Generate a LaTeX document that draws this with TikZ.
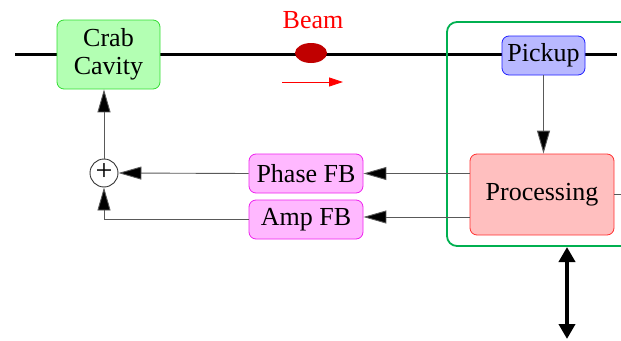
\documentclass[tikz,border=0pt]{standalone}
\usepackage{fontspec}
\setmainfont{Liberation Serif}
\usetikzlibrary{arrows.meta,shapes.geometric,calc}
\definecolor{crabfill}{HTML}{B3FFB3}
\definecolor{crabdraw}{HTML}{33DD33}
\definecolor{pickfill}{HTML}{B8B8FF}
\definecolor{pickdraw}{HTML}{2020FF}
\definecolor{procfill}{HTML}{FFBFBF}
\definecolor{procdraw}{HTML}{FF3030}
\definecolor{fbfill}{HTML}{FFB8FF}
\definecolor{fbdraw}{HTML}{EE22EE}
\definecolor{boxgreen}{HTML}{00B050}
\definecolor{bunch}{HTML}{C00000}
\begin{document}
\begin{tikzpicture}[x=1pt,y=-1pt,
  every node/.style={font=\fontsize{26}{28}\selectfont, inner sep=0pt, align=center},
  blk/.style={rectangle, rounded corners=7pt, line width=0.8pt},
  conn/.style={line width=0.9pt, draw=black!65},
  arr/.style={conn, -{Triangle[length=23pt,width=13pt,fill=black]}},
]
\useasboundingbox (0,0) rectangle (621,340);
% beam line
\coordinate (beamL) at (15,54);
\coordinate (beamR) at (617,54);
\draw[line width=3pt] (beamL) -- (beamR);
% green enclosure
\draw[draw=boxgreen, line width=1.8pt, rounded corners=10pt] (447,22) rectangle (650,246);
\coordinate (encbot) at (567,247);
\coordinate (down) at (567,339);
% nodes
\node[blk, fill=crabfill, draw=crabdraw, minimum width=103pt, minimum height=69pt] (crab) at (108.5,54.5) {Crab\\Cavity};
\node[blk, fill=pickfill, draw=pickdraw, minimum width=83pt, minimum height=39pt] (pickup) at (543.5,55.5) {Pickup};
\node[blk, fill=procfill, draw=procdraw, minimum width=144pt, minimum height=81pt] (proc) at (542,194.5) {Processing};
\node[blk, fill=fbfill, draw=fbdraw, minimum width=114pt, minimum height=39pt] (phase) at (306,173.5) {Phase FB};
\node[blk, fill=fbfill, draw=fbdraw, minimum width=114pt, minimum height=39pt] (amp) at (306,219.5) {Amp FB};
\node[circle, draw=black!80, line width=0.9pt, fill=white, minimum size=28pt] (sum) at (104,173) {};
\node[font=\fontsize{30}{30}\selectfont] (plus) at (104,172) {+};
% beam bunch
\node[ellipse, fill=bunch, minimum width=32pt, minimum height=20pt] (bunch) at (311,53) {};
\node[text=red] (beam) at (313,20) {Beam};
\coordinate (dirA) at (282,82);
\coordinate (dirB) at (343,82);
\draw[red, line width=0.8pt, -{Triangle[length=14pt,width=9pt]}] (dirA) -- (dirB);
% connectors
\draw[arr] (pickup.south) -- (proc.north -| pickup.south);
\draw[arr] (proc.west |- phase.east) -- (phase.east);
\draw[arr] ($(proc.west)+(0,22.5)$) -- ($(amp.east)+(0,-2.5)$);
\draw[arr] (phase.west) -- (sum.east);
\draw[arr] (amp.west) -| (sum.south);
\draw[arr] (sum.north) -- (sum.north |- crab.south);
\coordinate (procout) at (621,194.5);
\draw[conn] (proc.east) -- (procout);
\draw[line width=4.5pt, {Triangle[length=15pt,width=16pt]}-{Triangle[length=15pt,width=16pt]}] (encbot) -- (down);
\end{tikzpicture}
\end{document}
